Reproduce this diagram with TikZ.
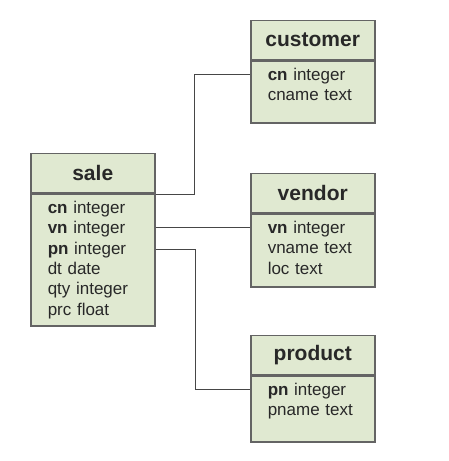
\documentclass[tikz,border=0pt]{standalone}
\usepackage{fontspec}
\setmainfont{Liberation Sans}
\usepackage{xcolor}
\usepackage{tikz}
\usetikzlibrary{positioning,calc}
\definecolor{tblfill}{RGB}{224,233,209}
\definecolor{tblline}{RGB}{100,100,100}
\definecolor{tbltext}{RGB}{40,40,40}
\definecolor{linkclr}{RGB}{70,70,70}
\tikzset{
    thead/.style={rectangle,draw=tblline,line width=1.5pt,fill=tblfill,
                  minimum width=124pt,minimum height=39pt,inner sep=0pt,
                  anchor=north west,text=tbltext,
                  font=\fontsize{21}{24}\selectfont\bfseries},
    tbody/.style={rectangle,draw=tblline,line width=1.5pt,fill=tblfill,
                  text width=90pt,inner xsep=17pt,inner ysep=0pt,
                  align=left,text height=19pt,text=tbltext,
                  font=\fontsize{17}{20.4}\selectfont},
    link/.style={draw=linkclr,line width=1.4pt},
}

\begin{document}
\begin{tikzpicture}[x=1pt,y=1pt]
\useasboundingbox (0,0) rectangle (448,461);
% tables
\node[thead] (sale) at (30,308) {sale};
\node[tbody,below=0pt of sale,text depth=113pt] (salebody)
  {\textbf{cn} integer\\ \textbf{vn} integer\\ \textbf{pn} integer\\
   dt date\\ qty integer\\ prc float};
\node[thead] (cust) at (250,441) {customer};
\node[tbody,below=0pt of cust,text depth=43pt] (custbody)
  {\textbf{cn} integer\\ cname text};
\node[thead] (vend) at (250,288) {vendor};
\node[tbody,below=0pt of vend,text depth=54pt] (vendbody)
  {\textbf{vn} integer\\ vname text\\ loc text};
\node[thead] (prod) at (250,126) {product};
\node[tbody,below=0pt of prod,text depth=47pt] (prodbody)
  {\textbf{pn} integer\\ pname text};
% keys
\coordinate (cnS) at ($(salebody.north east)+(0,-1)$);
\coordinate (vnS) at ($(salebody.north east)+(0,-34)$);
\coordinate (pnS) at ($(salebody.north east)+(0,-56)$);
\coordinate (cnC) at ($(custbody.north west)+(0,-14)$);
\coordinate (vnV) at ($(vendbody.north west)+(0,-14)$);
\coordinate (pnP) at ($(prodbody.north west)+(0,-14)$);
\draw[link] (cnS) -- ++(39,0) |- (cnC);
\draw[link] (vnS) -- (vnV);
\draw[link] (pnS) -- ++(40,0) |- (pnP);
\end{tikzpicture}
\end{document}
